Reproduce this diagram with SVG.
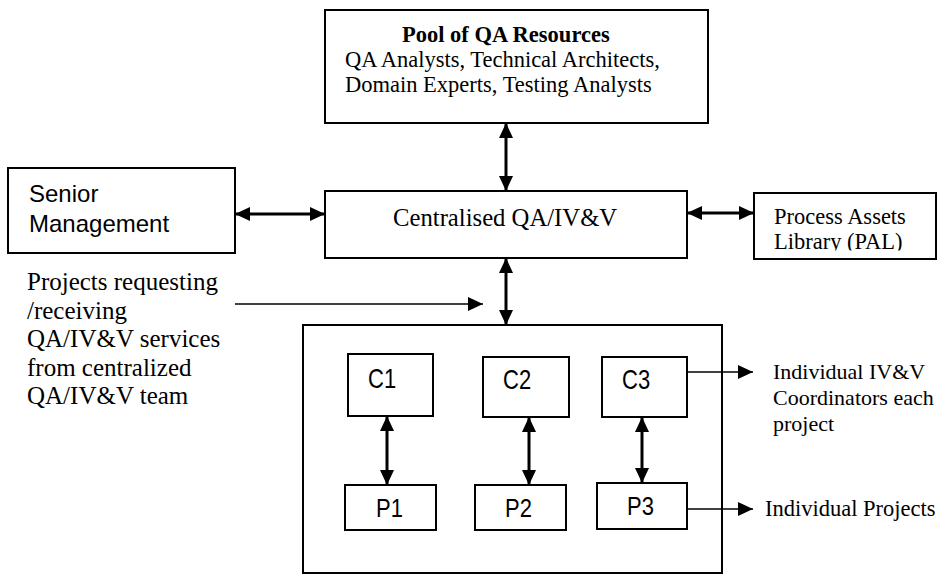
<svg xmlns="http://www.w3.org/2000/svg" width="937" height="575" viewBox="0 0 937 575">
<style>
.box{fill:#fff;stroke:#000;stroke-width:2}
.serif{font-family:"Liberation Serif","Times New Roman",serif;fill:#000}
.sans{font-family:"Liberation Sans",Arial,sans-serif;fill:#000}
.lbl{font-family:"Liberation Sans",Arial,sans-serif;fill:#000;font-size:22px}
.thick{stroke:#000;stroke-width:3;fill:none}
.thin{stroke:#000;stroke-width:1.5;fill:none}
</style>
<defs>
<marker id="ah" markerUnits="userSpaceOnUse" viewBox="0 0 15 14" refX="15" refY="7" markerWidth="15" markerHeight="14" orient="auto-start-reverse">
<path d="M0,0 L15,7 L0,14 Z" fill="#000"/>
</marker>
<clipPath id="palclip"><rect x="754" y="193" width="182" height="57.5"/></clipPath>
</defs>
<g id="pool">
<rect class="box" x="325" y="10" width="383" height="113"/>
<text class="serif" x="402" y="42" font-size="22.5" font-weight="bold">Pool of QA Resources</text>
<text class="serif" x="345" y="67" font-size="22.5">QA Analysts, Technical Architects,</text>
<text class="serif" x="345" y="92" font-size="22.5">Domain Experts, Testing Analysts</text>
</g>
<g id="senior">
<rect class="box" x="8" y="168" width="227" height="85"/>
<text class="sans" x="29" y="202" font-size="24">Senior</text>
<text class="sans" x="29" y="232" font-size="24">Management</text>
</g>
<g id="central">
<rect class="box" x="325" y="191" width="362" height="67"/>
<text class="serif" x="393" y="226" font-size="24.7">Centralised QA/IV&amp;V</text>
</g>
<g id="pal">
<rect class="box" x="754" y="193" width="182" height="66"/>
<g clip-path="url(#palclip)">
<text class="serif" x="774" y="224" font-size="22.5">Process Assets</text>
<text class="serif" x="774" y="249" font-size="22.5">Library (PAL)</text>
</g>
</g>
<g id="projects-label">
<text class="serif" font-size="25">
<tspan x="27" y="290">Projects requesting</tspan>
<tspan x="27" y="318.5">/receiving</tspan>
<tspan x="27" y="347">QA/IV&amp;V services</tspan>
<tspan x="27" y="375.5">from centralized</tspan>
<tspan x="27" y="404">QA/IV&amp;V team</tspan>
</text>
</g>
<g id="projects-container">
<rect class="box" x="303" y="325" width="419" height="248"/>
</g>
<g id="c1"><rect class="box" x="348" y="354" width="85" height="62"/><text class="lbl" transform="translate(368,388) scale(1,1.25)">C1</text></g>
<g id="c2"><rect class="box" x="483" y="357" width="86" height="60"/><text class="lbl" transform="translate(503,389) scale(1,1.25)">C2</text></g>
<g id="c3"><rect class="box" x="602" y="357" width="85" height="60"/><text class="lbl" transform="translate(622,389) scale(1,1.25)">C3</text></g>
<g id="p1"><rect class="box" x="345" y="485" width="91" height="45"/><text class="lbl" transform="translate(376,517) scale(1,1.2)">P1</text></g>
<g id="p2"><rect class="box" x="475" y="485" width="91" height="45"/><text class="lbl" transform="translate(505,517) scale(1,1.2)">P2</text></g>
<g id="p3"><rect class="box" x="597" y="483" width="90" height="46"/><text class="lbl" transform="translate(627,515) scale(1,1.2)">P3</text></g>
<g id="coord-label">
<text class="serif" x="773" y="379" font-size="22">Individual IV&amp;V</text>
<text class="serif" x="773" y="405" font-size="22">Coordinators each</text>
<text class="serif" x="773" y="431" font-size="22">project</text>
</g>
<g id="indproj-label">
<text class="serif" x="765" y="516" font-size="22.5">Individual Projects</text>
</g>
<g id="connectors">
<line class="thick" x1="506" y1="123" x2="506" y2="191" marker-start="url(#ah)" marker-end="url(#ah)"/>
<line class="thick" x1="235" y1="214" x2="325" y2="214" marker-start="url(#ah)" marker-end="url(#ah)"/>
<line class="thick" x1="687" y1="213" x2="754" y2="213" marker-start="url(#ah)" marker-end="url(#ah)"/>
<line class="thick" x1="506" y1="258" x2="506" y2="325" marker-start="url(#ah)" marker-end="url(#ah)"/>
<line class="thin" x1="235" y1="304" x2="483" y2="304" marker-end="url(#ah)"/>
<line class="thick" x1="387" y1="416" x2="387" y2="485" marker-start="url(#ah)" marker-end="url(#ah)"/>
<line class="thick" x1="529" y1="417" x2="529" y2="485" marker-start="url(#ah)" marker-end="url(#ah)"/>
<line class="thick" x1="642" y1="417" x2="642" y2="483" marker-start="url(#ah)" marker-end="url(#ah)"/>
<line class="thin" x1="687" y1="372" x2="753" y2="372" marker-end="url(#ah)"/>
<line class="thin" x1="687" y1="509" x2="753" y2="509" marker-end="url(#ah)"/>
</g>
</svg>
